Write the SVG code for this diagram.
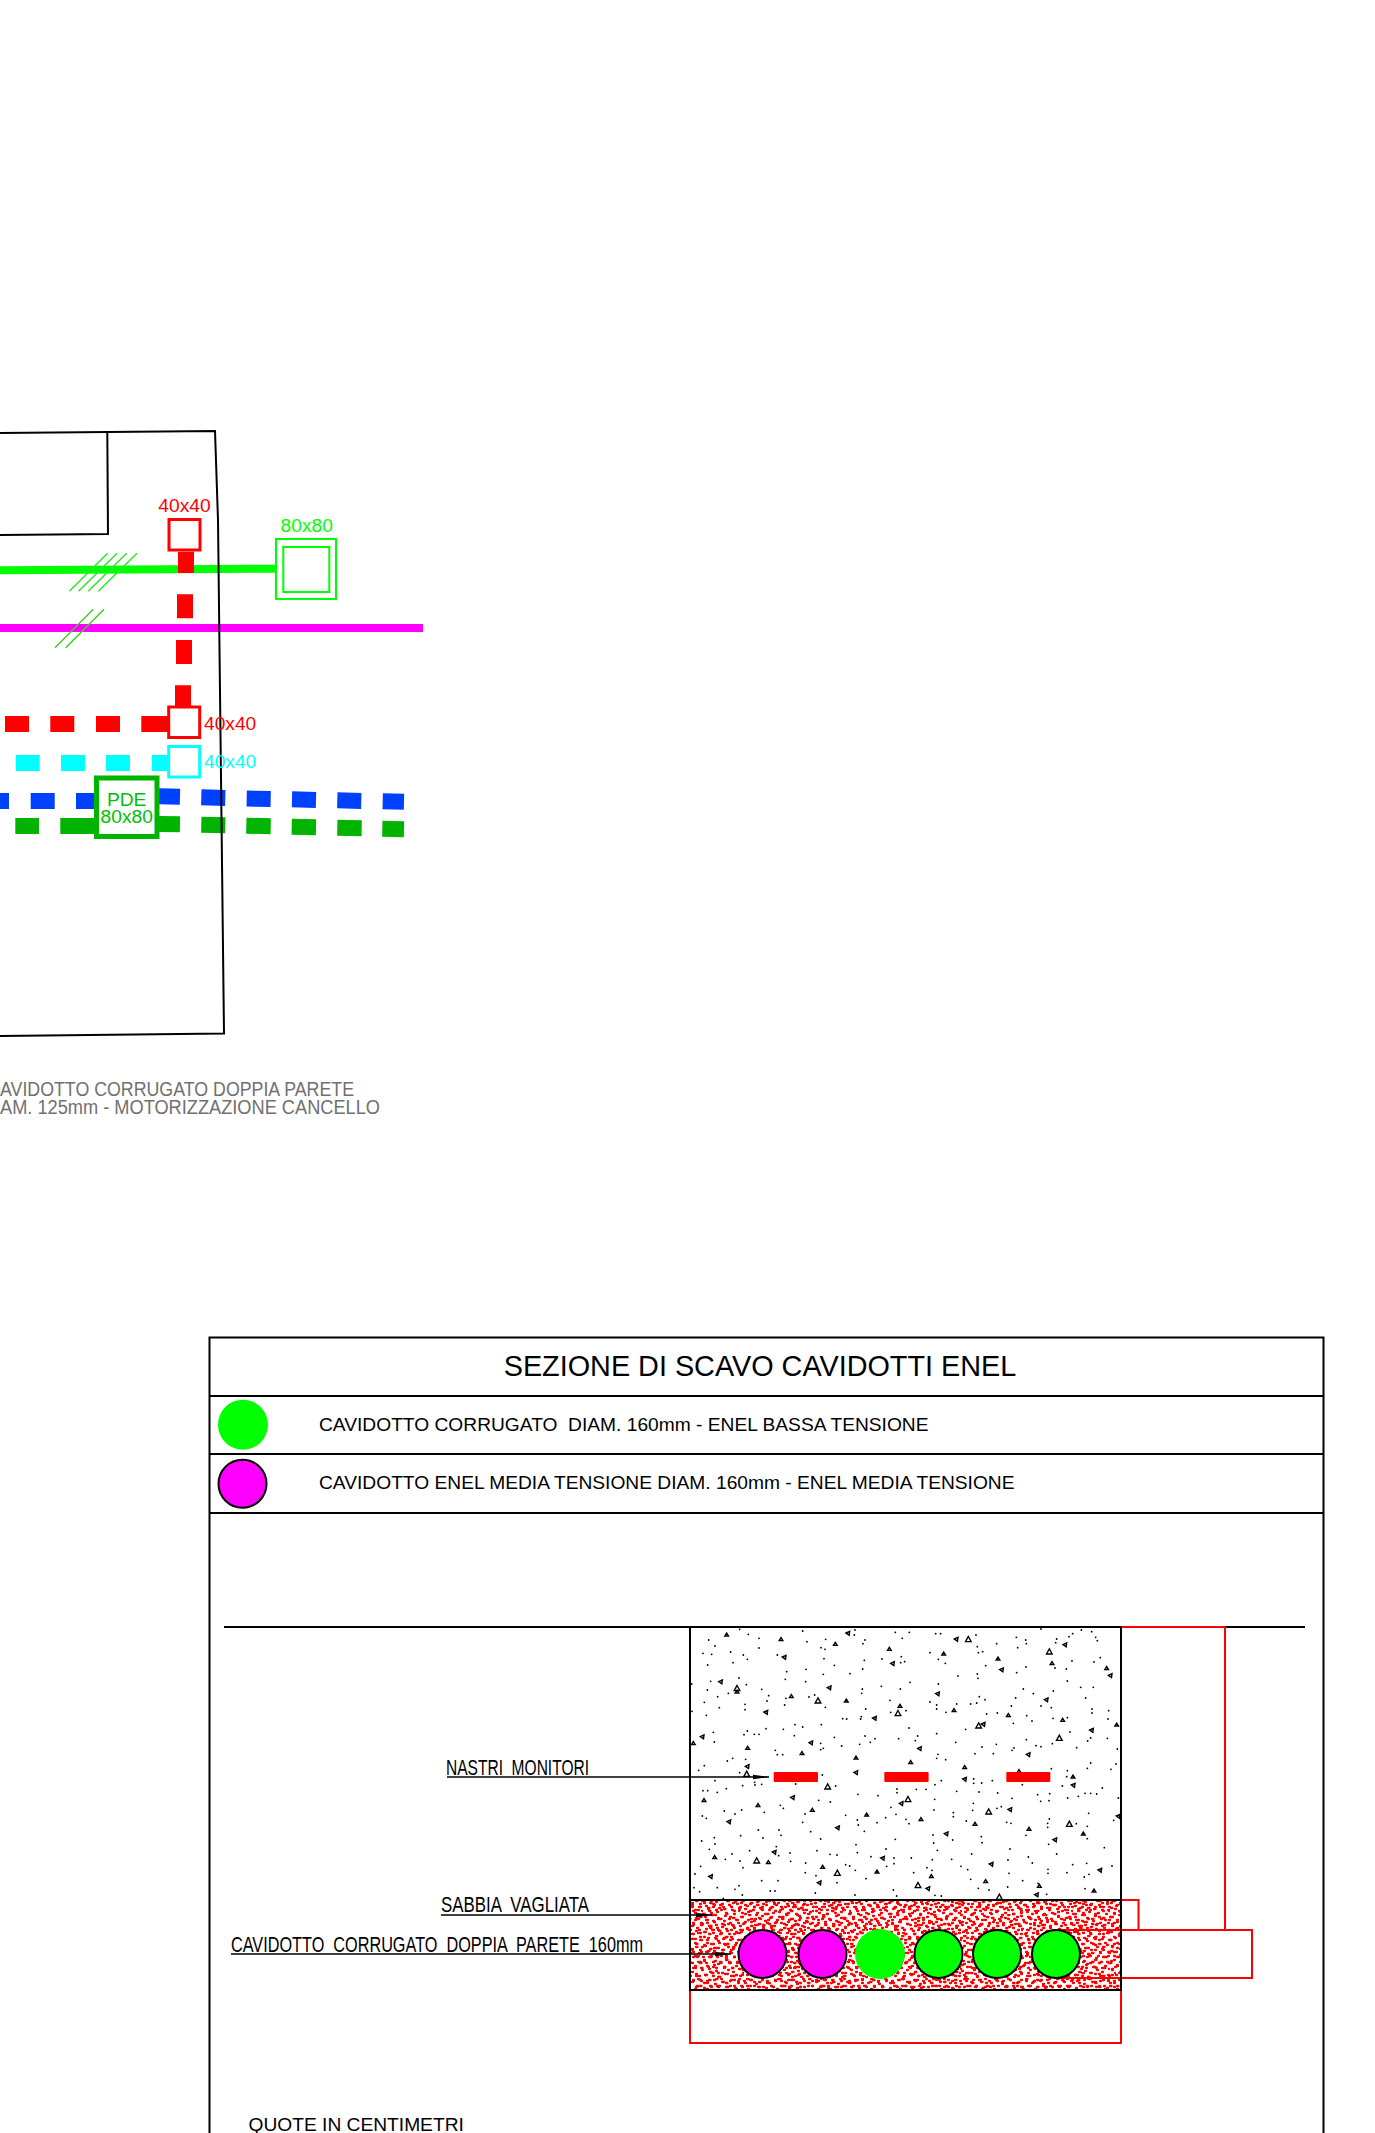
<svg xmlns="http://www.w3.org/2000/svg" width="1375" height="2133" viewBox="0 0 1375 2133">
<style>
text{font-family:"Liberation Sans",Arial,sans-serif}
.k{fill:none;stroke:#000;stroke-width:2}
.r2{fill:none;stroke:#f00;stroke-width:2}
.lab{font-size:19.2px}
.row{font-size:19.2px;fill:#000}
.cad{font-size:21.5px;fill:#000;word-spacing:6px}
.gr{font-size:20px;fill:#707070}
.lead{fill:none;stroke:#000;stroke-width:1.6}
.dd{fill:none;stroke-width:16}
.hat{fill:none;stroke-width:1.5}
.pipe{stroke:#000;stroke-width:2}
</style>
<defs>
<marker id="ah" markerUnits="userSpaceOnUse" markerWidth="18" markerHeight="8" refX="16" refY="4" orient="auto"><path d="M0 1.8L16 4L0 6.2Z" fill="#000"/></marker>
<path id="tu" d="M0-5L5.5 4H-5.5Z" fill="none" stroke="#000" stroke-width="4.2"/>
<path id="tU" d="M0-8.5L8.5 7H-8.5Z" fill="none" stroke="#000" stroke-width="4"/>
<path id="tl" d="M-6-1L5-6L3.5 5.5Z" fill="none" stroke="#000" stroke-width="4.2"/>
<pattern id="sa" width="37" height="29" patternUnits="userSpaceOnUse"><path fill="none" stroke="#f00" stroke-width="2.3" stroke-linecap="round" d="M2 3h1M9 1h1.5M15 5h1M22 2h1M30 4h1.5M35 9h1M4 9h1M11 8h1M19 10h1.5M27 9h1M7 14h1.5M14 14h1M23 15h1M31 14h1M1 18h1M10 19h1M17 20h1.5M26 20h1M34 19h1M5 24h1M13 25h1M21 24h1.5M29 25h1M36 26h.5"/></pattern>
<pattern id="sb" width="41" height="23" patternUnits="userSpaceOnUse"><path fill="none" stroke="#f00" stroke-width="2.3" stroke-linecap="round" d="M1 1h1M7 5h1M12 2h1.5M18 6h1M24 1h1M29 5h1.5M37 2h1M3 8h1.5M10 11h1M16 12h1M21 9h1M27 12h1M33 8h1M39 11h1M5 15h1M13 17h1.5M19 16h1M25 18h1M31 15h1M36 17h1M2 21h1M9 20h1M16 21h1M22 22h1.5M34 21h1"/></pattern>
<pattern id="sc" width="31" height="43" patternUnits="userSpaceOnUse"><path fill="none" stroke="#f00" stroke-width="2.3" stroke-linecap="round" d="M3 1h1.5M10 4h1M18 2h1M25 5h1M6 8h1M14 9h1.5M22 10h1M29 9h1M1 13h1M10 15h1M18 15h1M26 16h1.5M4 20h1M13 21h1M21 22h1M29 21h1M7 27h1.5M16 27h1M24 28h1M1 30h1M11 33h1M19 33h1.5M27 34h1M5 38h1M14 39h1M23 40h1M30 38h.5"/></pattern>
</defs>

<g id="connectors">
<path d="M0 570.2L276 568.7" stroke="#0f0" stroke-width="8" fill="none"/>
<path d="M0 628H423" stroke="#f0f" stroke-width="8" fill="none"/>
<g class="hat" stroke="#2ee62e">
<path d="M69.3 591.3L107.7 553.3M78.7 591.3L117 553.3M88.3 591.3L126.7 553.3M98.3 591.3L137 553.3"/>
</g>
<g class="hat" stroke="#44cc22">
<path d="M55 647.7L93.3 609.3M65.7 647.7L104 609.3"/>
</g>
<g class="dd" stroke="#f00">
<path d="M186 551.7V573M185 594.3V618.3M184 640V664M183 685.3V707M5 724H29M50.3 724H74.3M96 724H120M141.3 724H168"/>
</g>
<g class="dd" stroke="#0ff"><path d="M15.7 763H39.7M61 763H85M106 763H130M151.7 763H168"/></g>
<g class="dd" stroke="#0040ff">
<path d="M0 801H9M30.7 801H54.7M76 801H95M159 796.3L180 796.8M201.3 797.3L225.3 797.9M246.7 798.5L270.7 799M292 799.3L316 799.9M337.3 800.3L361.3 800.9M382.7 801.3L404 801.8"/>
</g>
<g class="dd" stroke="#00b400">
<path d="M15.3 826H39M60.3 826H94M159 824L180 824.3M201.3 824.7L225.3 825.2M246.3 825.7L270.7 826.2M291.7 826.7L316 827.2M337.3 827.7L361.7 828.2M382.3 828.7L404 829.2"/>
</g>
<path class="k" d="M0 433L215 431L218 520L224 1033.5L0 1036"/>
<path class="k" d="M0 535L108 534L107.3 432"/>
</g>

<g id="node-box-40-top"><rect x="169" y="519.5" width="31" height="30.5" fill="none" stroke="#f00" stroke-width="3"/><text class="lab" x="184.5" y="512" text-anchor="middle" fill="#f00">40x40</text></g>
<g id="node-box-80"><rect x="276" y="539" width="60" height="60" fill="#fff" stroke="#0f0" stroke-width="2"/><rect x="283.3" y="547" width="46" height="45" fill="none" stroke="#0f0" stroke-width="2"/><text class="lab" x="306.7" y="532" text-anchor="middle" fill="#0f0">80x80</text></g>
<g id="node-box-40-red"><rect x="168.7" y="707" width="31" height="30.5" fill="#fff" stroke="#f00" stroke-width="3"/><text class="lab" x="204" y="730" fill="#f00">40x40</text></g>
<g id="node-box-40-cyan"><rect x="168.7" y="746.5" width="31" height="30.5" fill="#fff" stroke="#0ff" stroke-width="3"/><text class="lab" x="204" y="768" fill="#0ff">40x40</text></g>
<g id="node-pde"><rect x="96.5" y="778" width="60.5" height="58.5" fill="#fff" stroke="#00b400" stroke-width="5"/><text class="lab" x="126.7" y="806" text-anchor="middle" fill="#00c000">PDE</text><text class="lab" x="126.7" y="823" text-anchor="middle" fill="#00c000">80x80</text></g>

<g id="note-motorizzazione">
<text class="gr" x="0" y="1096" textLength="354" lengthAdjust="spacingAndGlyphs">AVIDOTTO CORRUGATO DOPPIA PARETE</text>
<text class="gr" x="0" y="1114" textLength="380" lengthAdjust="spacingAndGlyphs">AM. 125mm - MOTORIZZAZIONE CANCELLO</text>
</g>

<g id="table">
<path class="k" d="M209.5 2133V1337.5H1323.5V2133M209.5 1396H1323.5M209.5 1454H1323.5M209.5 1513H1323.5"/>
<text x="760" y="1375.5" text-anchor="middle" font-size="28.8" fill="#000">SEZIONE DI SCAVO CAVIDOTTI ENEL</text>
</g>
<g id="legend-bt"><circle cx="243" cy="1424.7" r="25" fill="#0f0"/><text class="row" x="319" y="1430.5" xml:space="preserve">CAVIDOTTO CORRUGATO  DIAM. 160mm - ENEL BASSA TENSIONE</text></g>
<g id="legend-mt"><circle cx="242.5" cy="1483.7" r="24" fill="#f0f" stroke="#000" stroke-width="2"/><text class="row" x="319" y="1488.5">CAVIDOTTO ENEL MEDIA TENSIONE DIAM. 160mm - ENEL MEDIA TENSIONE</text></g>

<g id="section">
<path class="k" d="M224 1627H1305"/>
<path class="r2" d="M1121 1627H1225V1930M1121 1900H1138.5V1930M1056 1930H1252V1978H1056M690 1990V2043H1121V1990"/>
<rect x="690" y="1900" width="431" height="90" fill="url(#sa)"/>
<rect x="690" y="1900" width="431" height="90" fill="url(#sb)"/>
<rect x="690" y="1900" width="431" height="90" fill="url(#sc)"/>
<g id="concrete" transform="translate(670 1610) scale(.33333)">
<path fill="none" stroke="#000" stroke-width="5.5" stroke-linecap="round" d="M116 90h0M135 108h0M99 130h0M125 133h0M113 165h0M182 126h0M189 158h0M220 135h0M232 148h0M235 73h0M267 85h0M267 114h0M209 58h0M322 135h0M350 185h0M346 208h0M408 178h0M411 95h0M398 63h0M467 88h0M453 113h0M465 118h0M462 146h0M493 166h0M460 193h0M540 191h0M555 60h0M553 75h0M585 90h0M579 101h0M583 151h0M578 177h0M636 147h0M676 67h0M697 85h0M718 67h0M694 140h0M692 158h0M704 155h0M780 128h0M797 71h0M812 71h0M805 148h0M826 160h0M918 75h0M922 110h0M925 128h0M938 125h0M947 167h0M922 192h0M924 205h0M864 198h0M980 101h0M1039 82h0M1067 90h0M1069 101h0M1043 113h0M1068 171h0M1040 188h0M1113 57h0M1160 87h0M1157 98h0M1197 80h0M1208 71h0M1234 60h0M1265 65h0M1277 82h0M1282 92h0M1206 153h0M1189 177h0M1155 174h0M1272 156h0M1291 143h0M1192 213h0M1232 232h0M1270 232h0M1247 264h0M1150 243h0M1090 251h0M1060 237h0M1037 264h0M1024 288h0M1113 288h0M1144 293h0M1266 297h0M1266 309h0M1316 302h0M1314 327h0M1149 325h0M1192 323h0M1070 317h0M1086 333h0M1030 340h0M982 309h0M950 312h0M945 269h0M928 260h0M920 279h0M902 282h0M860 282h0M828 307h0M800 285h0M780 276h0M800 297h0M805 222h0M720 217h0M691 237h0M634 229h0M577 237h0M575 250h0M660 271h0M587 297h0M662 307h0M708 302h0M574 320h0M572 327h0M530 327h0M518 326h0M417 261h0M434 255h0M466 292h0M344 285h0M348 265h0M296 257h0M291 273h0M275 238h0M225 283h0M225 299h0M148 293h0M109 316h0M103 277h0M143 260h0M112 240h0M122 214h0M65 222h0M175 250h0M229 224h0M207 204h0M407 215h0M66 304h0M130 367h0M133 396h0M232 363h0M222 374h0M253 373h0M267 373h0M288 356h0M340 358h0M375 344h0M398 351h0M373 377h0M454 344h0M493 382h0M452 400h0M460 415h0M452 419h0M515 408h0M569 403h0M585 378h0M615 386h0M601 397h0M686 386h0M717 354h0M743 378h0M736 392h0M800 371h0M857 397h0M887 358h0M936 411h0M979 403h0M915 431h0M970 431h0M1032 414h0M1026 421h0M1069 389h0M1098 407h0M1113 410h0M1147 401h0M1200 366h0M1220 413h0M1253 393h0M1262 384h0M1312 385h0M1342 417h0M1338 462h0M1323 478h0M1262 459h0M1252 475h0M1192 482h0M1190 500h0M1144 476h0M1177 528h0M1245 550h0M1262 550h0M1280 552h0M1297 534h0M1225 559h0M1193 564h0M1139 551h0M1103 554h0M1112 574h0M1137 572h0M1057 524h0M1026 565h0M1345 564h0M1256 610h0M1331 631h0M1252 649h0M1219 641h0M1138 627h0M1133 640h0M1133 652h0M1068 676h0M1023 640h0M1010 637h0M994 590h0M981 595h0M983 549h0M967 512h0M935 519h0M911 507h0M911 520h0M927 546h0M910 580h0M908 601h0M889 633h0M850 608h0M850 620h0M860 544h0M814 512h0M795 524h0M800 445h0M804 433h0M827 449h0M768 538h0M739 538h0M681 537h0M681 548h0M663 592h0M678 613h0M647 623h0M621 638h0M624 557h0M564 553h0M527 616h0M562 630h0M565 645h0M583 664h0M708 628h0M717 641h0M794 568h0M792 600h0M789 675h0M791 699h0M802 721h0M848 690h0M934 680h0M936 698h0M905 732h0M845 748h0M873 769h0M893 779h0M787 749h0M771 773h0M786 781h0M731 788h0M724 744h0M672 744h0M672 761h0M650 769h0M648 717h0M676 688h0M558 704h0M562 728h0M603 740h0M527 764h0M539 768h0M556 781h0M588 806h0M501 735h0M480 733h0M441 722h0M452 687h0M422 665h0M398 637h0M405 612h0M340 595h0M331 586h0M446 571h0M481 576h0M497 528h0M457 495h0M377 522h0M316 421h0M322 434h0M338 434h0M172 453h0M188 445h0M227 448h0M103 467h0M86 481h0M209 488h0M135 512h0M254 517h0M255 525h0M275 523h0M218 527h0M99 542h0M113 542h0M142 547h0M169 536h0M163 603h0M195 612h0M215 600h0M283 607h0M97 618h0M109 625h0M95 693h0M133 683h0M135 702h0M118 718h0M186 732h0M166 748h0M210 753h0M219 773h0M239 722h0M212 677h0M265 660h0M279 684h0M327 660h0M333 676h0M319 710h0M326 737h0M360 729h0M362 754h0M407 759h0M406 788h0M438 797h0M92 769h0M75 792h0M72 833h0M89 845h0M142 833h0M207 827h0M195 838h0M217 855h0M160 865h0M275 812h0M324 812h0M301 843h0M315 843h0M436 849h0M501 818h0M555 855h0M670 840h0M680 858h0M795 856h0M814 858h0M902 808h0M925 835h0M957 840h0M1013 831h0M1017 790h0M1014 750h0M1020 717h0M1075 741h0M1087 759h0M1058 812h0M1130 853h0M1134 778h0M1134 790h0M1191 788h0M1208 764h0M1250 760h0M1243 801h0M1257 793h0M1326 768h0M1303 713h0M1160 732h0M1136 703h0M1245 836h0M1252 686h0M1104 820h0"/>
<use href="#tu" x="170" y="74"/><use href="#tu" x="333" y="88"/><use href="#tu" x="496" y="102"/><use href="#tu" x="658" y="117"/><use href="#tu" x="821" y="131"/><use href="#tu" x="984" y="146"/><use href="#tU" x="1138" y="125"/><use href="#tu" x="1146" y="160"/><use href="#tU" x="895" y="88"/>
<use href="#tl" x="534" y="70"/><use href="#tl" x="859" y="88"/><use href="#tl" x="1185" y="105"/><use href="#tl" x="668" y="161"/><use href="#tl" x="343" y="142"/><use href="#tl" x="995" y="180"/><use href="#tu" x="1310" y="175"/><use href="#tl" x="1321" y="197"/><use href="#tl" x="152" y="216"/><use href="#tl" x="478" y="234"/><use href="#tl" x="803" y="252"/><use href="#tl" x="1129" y="270"/><use href="#tl" x="288" y="307"/><use href="#tl" x="614" y="325"/><use href="#tl" x="940" y="343"/><use href="#tl" x="1265" y="361"/><use href="#tl" x="97" y="381"/><use href="#tl" x="423" y="399"/><use href="#tl" x="749" y="416"/><use href="#tl" x="1075" y="434"/><use href="#tl" x="232" y="470"/><use href="#tl" x="558" y="488"/><use href="#tl" x="884" y="508"/><use href="#tl" x="1210" y="526"/><use href="#tl" x="368" y="563"/><use href="#tl" x="694" y="581"/><use href="#tl" x="1020" y="599"/><use href="#tl" x="177" y="636"/><use href="#tl" x="503" y="654"/><use href="#tl" x="829" y="672"/><use href="#tl" x="1155" y="690"/><use href="#tl" x="313" y="727"/><use href="#tl" x="638" y="745"/><use href="#tl" x="964" y="763"/><use href="#tl" x="1290" y="781"/><use href="#tl" x="122" y="800"/><use href="#tl" x="448" y="819"/><use href="#tl" x="774" y="836"/><use href="#tl" x="1100" y="855"/><use href="#tl" x="1345" y="619"/>
<use href="#tU" x="201" y="235"/><use href="#tu" x="201" y="245"/><use href="#tu" x="364" y="259"/><use href="#tu" x="529" y="272"/><use href="#tU" x="444" y="272"/><use href="#tu" x="690" y="288"/><use href="#tU" x="684" y="310"/><use href="#tu" x="852" y="301"/><use href="#tu" x="1015" y="316"/><use href="#tu" x="1178" y="330"/><use href="#tu" x="1340" y="344"/><use href="#tU" x="926" y="347"/><use href="#tU" x="1168" y="384"/><use href="#tu" x="70" y="400"/><use href="#tu" x="233" y="414"/><use href="#tu" x="396" y="430"/><use href="#tu" x="558" y="443"/><use href="#tu" x="722" y="457"/><use href="#tu" x="884" y="472"/><use href="#tu" x="1047" y="484"/><use href="#tu" x="1209" y="500"/><use href="#tU" x="230" y="492"/><use href="#tU" x="473" y="530"/><use href="#tu" x="102" y="571"/><use href="#tu" x="264" y="586"/><use href="#tu" x="427" y="600"/><use href="#tu" x="590" y="614"/><use href="#tu" x="753" y="628"/><use href="#tu" x="915" y="642"/><use href="#tu" x="1077" y="657"/><use href="#tu" x="1240" y="671"/><use href="#tU" x="714" y="568"/><use href="#tU" x="956" y="605"/><use href="#tU" x="1198" y="642"/><use href="#tu" x="134" y="742"/><use href="#tu" x="295" y="757"/><use href="#tu" x="458" y="771"/><use href="#tu" x="621" y="785"/><use href="#tu" x="784" y="799"/><use href="#tu" x="947" y="814"/><use href="#tu" x="1108" y="828"/><use href="#tu" x="1272" y="842"/><use href="#tU" x="260" y="752"/><use href="#tU" x="502" y="789"/><use href="#tU" x="744" y="826"/><use href="#tU" x="988" y="861"/>
</g>
<g fill="#f00"><rect x="773.7" y="1772" width="44.3" height="10" rx="1"/><rect x="884.3" y="1772" width="44.3" height="10" rx="1"/><rect x="1006.3" y="1772" width="44" height="10" rx="1"/></g>
<rect class="k" x="690" y="1627" width="431" height="363"/>
<path class="k" d="M690 1900H1121"/>
<g id="pipes">
<circle class="pipe" cx="762.5" cy="1954" r="24" fill="#f0f"/>
<circle class="pipe" cx="822.5" cy="1954" r="24" fill="#f0f"/>
<circle cx="880" cy="1954" r="25" fill="#0f0"/>
<circle class="pipe" cx="938.5" cy="1954" r="24" fill="#0f0"/>
<circle class="pipe" cx="997" cy="1954" r="24" fill="#0f0"/>
<circle class="pipe" cx="1056" cy="1954" r="24" fill="#0f0"/>
</g>
</g>

<g id="labels">
<path class="lead" d="M447 1777H769" marker-end="url(#ah)"/>
<path class="lead" d="M441 1915H712" marker-end="url(#ah)"/>
<path class="lead" d="M231 1954H731" marker-end="url(#ah)"/>
<text class="cad" x="446" y="1775" textLength="143" lengthAdjust="spacingAndGlyphs">NASTRI MONITORI</text>
<text class="cad" x="441" y="1912" textLength="148" lengthAdjust="spacingAndGlyphs">SABBIA VAGLIATA</text>
<text class="cad" x="231" y="1952" textLength="412" lengthAdjust="spacingAndGlyphs">CAVIDOTTO CORRUGATO DOPPIA PARETE 160mm</text>
<text class="row" x="248.5" y="2131">QUOTE IN CENTIMETRI</text>
</g>
</svg>
